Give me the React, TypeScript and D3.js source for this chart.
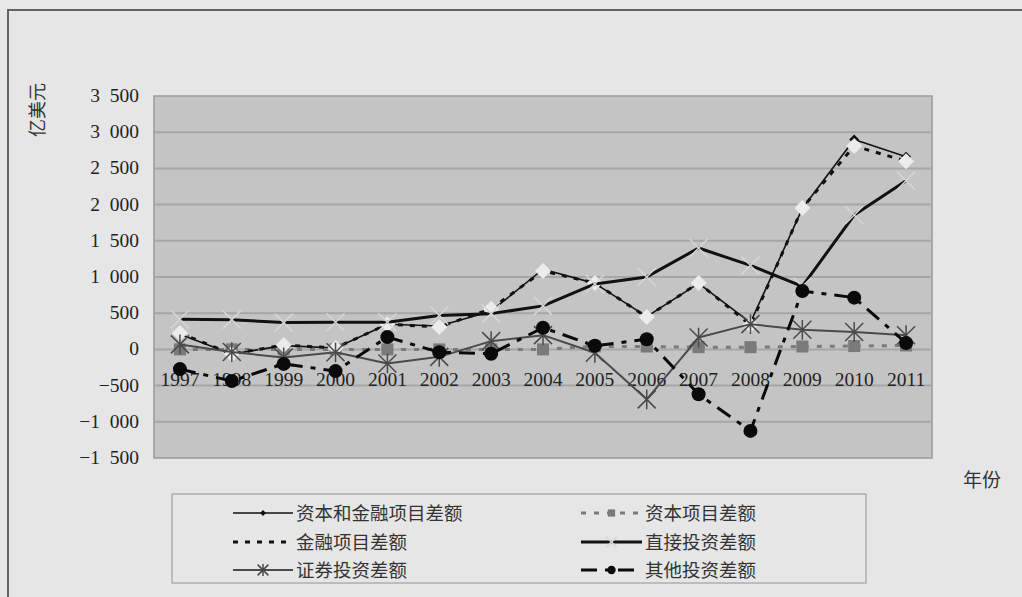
import React from "react";
import * as d3 from "d3";

const years = ["1997","1998","1999","2000","2001","2002","2003","2004","2005","2006","2007","2008","2009","2010","2011"];
const capFin = [210, -63, 52, 20, 348, 323, 527, 1107, 912, 453, 911, 371, 1945, 2900, 2660];
const capital = [0, 0, 0, 0, 0, 0, 0, 0, 41, 40, 31, 31, 40, 46, 54];
const financial = [225, -63, 60, 20, 348, 310, 560, 1083, 917, 448, 917, 337, 1953, 2810, 2600];
const direct = [417, 411, 370, 375, 374, 468, 494, 601, 904, 1001, 1400, 1160, 870, 1856, 2330];
const portfolio = [69, -37, -112, -40, -194, -103, 114, 197, -47, -690, 164, 349, 271, 240, 196];
const other = [-272, -437, -200, -300, 170, -40, -60, 300, 50, 140, -620, -1126, 806, 715, 88];
const yTicks = [3500, 3000, 2500, 2000, 1500, 1000, 500, 0, -500, -1000, -1500];
const seriesNames = ["资本和金融项目差额", "资本项目差额", "金融项目差额", "直接投资差额", "证券投资差额", "其他投资差额"];

const W = 1022, H = 597;
const PL = 154, PR = 932, PT = 96, PB = 458;

const x = d3.scaleBand<string>().domain(years).range([PL, PR]);
const cx = (y: string) => (x(y) as number) + x.bandwidth() / 2;
const yS = d3.scaleLinear().domain([-1500, 3500]).range([PB, PT]);

const line = d3.line<number>().x((_, i) => cx(years[i])).y((v) => yS(v));

const fmt = (v: number) => {
  const s = Math.abs(v).toString();
  const t = s.length > 3 ? s.slice(0, s.length - 3) + "\u2002" + s.slice(-3) : s;
  return (v < 0 ? "\u2212" : "") + t;
};

type Style = {
  stroke: string; width: number; dash?: string;
  marker: "diamond" | "square" | "none" | "x" | "star" | "circle";
  mfill: string; msize: number;
};

const styles: Style[] = [
  { stroke: "#111", width: 1.6, marker: "diamond", mfill: "#111", msize: 5 },
  { stroke: "#7a7a7a", width: 3, dash: "5,8", marker: "square", mfill: "#7a7a7a", msize: 6 },
  { stroke: "#111", width: 3, dash: "5,7", marker: "diamond", mfill: "#ececec", msize: 8 },
  { stroke: "#111", width: 3, marker: "x", mfill: "#d6d6d6", msize: 9 },
  { stroke: "#4a4a4a", width: 2, marker: "star", mfill: "#4a4a4a", msize: 9 },
  { stroke: "#0a0a0a", width: 3, dash: "16,8,5,8", marker: "circle", mfill: "#0a0a0a", msize: 7 },
];

const data = [capFin, capital, financial, direct, portfolio, other];

function Marker({ s, px, py, legend }: { s: Style; px: number; py: number; legend?: boolean }) {
  const r = legend ? Math.max(3, s.msize * 0.6) : s.msize;
  switch (s.marker) {
    case "diamond":
      return <path d={`M${px},${py - r} L${px + r},${py} L${px},${py + r} L${px - r},${py} Z`} fill={s.mfill} />;
    case "square":
      return <rect x={px - r} y={py - r} width={2 * r} height={2 * r} fill={s.mfill} />;
    case "circle":
      return <circle cx={px} cy={py} r={r} fill={s.mfill} />;
    case "x":
      return (
        <path d={`M${px - r},${py - r} L${px + r},${py + r} M${px - r},${py + r} L${px + r},${py - r}`}
          stroke={s.mfill} strokeWidth={1.5} />
      );
    case "star":
      return (
        <path d={`M${px - r},${py - r} L${px + r},${py + r} M${px - r},${py + r} L${px + r},${py - r} M${px},${py - r * 1.1} L${px},${py + r * 1.1}`}
          stroke={s.mfill} strokeWidth={1.5} />
      );
    default:
      return null;
  }
}

export default function App() {
  const serif = "'Liberation Serif', 'DejaVu Serif', serif";
  const cjk = "'Noto Sans CJK SC', sans-serif";
  const legendRows = [513, 542, 570];
  const legendCols = [{ l0: 233, l1: 293, t: 296 }, { l0: 581, l1: 642, t: 645 }];
  return (
    <svg width={W} height={H} style={{ position: "absolute", left: 0, top: 0 }}>
      <rect x={0} y={0} width={W} height={H} fill="#e8e8e8" />
      <rect x={8} y={10} width={W + 20} height={H + 20} fill="#e6e6e6" stroke="#555" strokeWidth={1.8} />
      <rect x={PL} y={PT} width={PR - PL} height={PB - PT} fill="#c4c4c4" stroke="#9a9a9a" strokeWidth={1.5} />
      {yTicks.map((t) => (
        <g key={t}>
          {t !== 3500 && t !== -1500 && (
            <line x1={PL} x2={PR} y1={yS(t)} y2={yS(t)} stroke="#a6a6a6" strokeWidth={2} />
          )}
          <text x={139} y={yS(t) + 6} textAnchor="end" fontFamily={serif} fontSize={19.5} fill="#222">{fmt(t)}</text>
        </g>
      ))}
      <text transform={`translate(44,110) rotate(-90)`} textAnchor="middle" fontFamily={cjk} fontSize={18} fill="#333">亿美元</text>
      {years.map((yr) => (
        <text key={yr} x={cx(yr)} y={386} textAnchor="middle" fontFamily={serif} fontSize={19.5} fill="#222">{yr}</text>
      ))}
      <text x={963} y={487} fontFamily={cjk} fontSize={19} fill="#333">年份</text>
      {data.map((vals, si) => {
        const s = styles[si];
        return (
          <g key={si}>
            <path d={line(vals) as string} fill="none" stroke={s.stroke} strokeWidth={s.width}
              strokeDasharray={s.dash} strokeLinejoin="round" />
            {vals.map((v, i) => (
              <Marker key={i} s={s} px={cx(years[i])} py={yS(v)} />
            ))}
          </g>
        );
      })}
      <rect x={172} y={494} width={694} height={89} fill="#e6e6e6" stroke="#a0a0a0" strokeWidth={1.2} />
      {seriesNames.map((name, i) => {
        const col = legendCols[i % 2];
        const ry = legendRows[Math.floor(i / 2)];
        const s = styles[i];
        const mid = (col.l0 + col.l1) / 2;
        return (
          <g key={name}>
            <line x1={col.l0} x2={col.l1} y1={ry} y2={ry} stroke={s.stroke} strokeWidth={s.width}
              strokeDasharray={s.dash} />
            {i !== 2 && <Marker s={s} px={mid} py={ry} legend />}
            <text x={col.t} y={ry + 6.5} fontFamily={cjk} fontSize={18.5} fill="#333">{name}</text>
          </g>
        );
      })}
    </svg>
  );
}
